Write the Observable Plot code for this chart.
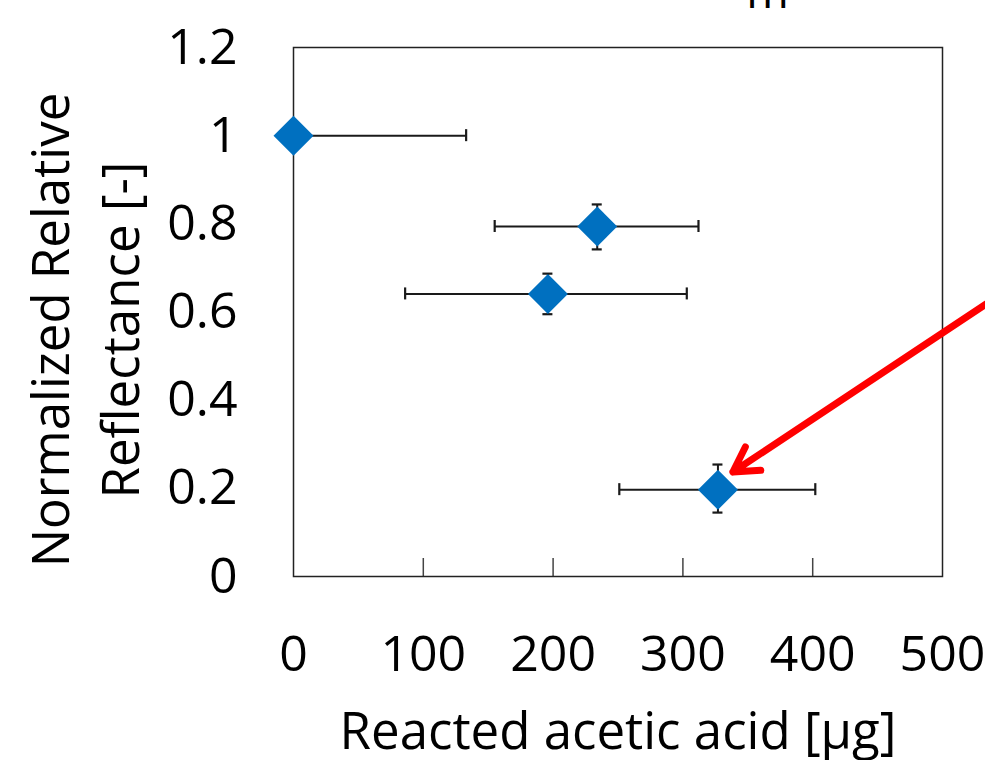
<!DOCTYPE html>
<html>
<head>
<meta charset="utf-8">
<script src="https://cdn.jsdelivr.net/npm/d3@7"></script>
<script src="https://cdn.jsdelivr.net/npm/@observablehq/plot@0.6"></script>
<style>
  html, body { margin: 0; padding: 0; background: #fff; }
  #chart { width: 985px; height: 760px; overflow: hidden; }
</style>
</head>
<body>
<div id="chart"></div>
<script>
// ---- data ----
const xVal = [0, 234, 196, 327];            // reacted acetic acid [µg]
const yVal = [1.0, 0.794, 0.641, 0.197];    // normalized relative reflectance
const xLo  = [0, 155, 86, 251];
const xHi  = [133, 312, 303, 402];
const yLo  = [1.0, 0.742, 0.595, 0.145];
const yHi  = [1.0, 0.844, 0.687, 0.254];

const xTicks = [0, 100, 200, 300, 400, 500];
const yTicks = [0, 0.2, 0.4, 0.6, 0.8, 1, 1.2];
const xInnerTicks = [100, 200, 300, 400];

const xLabel = "Reacted acetic acid [μg]";
const yLabel = "Normalized Relative\nReflectance [-]";
const topFragment = ["m"];

// annotation arrow (data coordinates): start (off to the right) -> tip
const arrowData = [{x1: 551, y1: 0.652, x2: 338.5, y2: 0.237}];

const points = xVal.map((x, i) => ({
  x, y: yVal[i], xlo: xLo[i], xhi: xHi[i], ylo: yLo[i], yhi: yHi[i]
}));
const withYErr = points.filter(d => d.yhi > d.ylo);

const font = "'Open Sans', 'Noto Sans', sans-serif";
const errColor = "#1a1a1a";

const chart = Plot.plot({
  width: 985,
  height: 760,
  marginLeft: 293,
  marginRight: 43,
  marginTop: 47,
  marginBottom: 184,
  style: {fontFamily: font, fontSize: "50px", color: "#000", background: "#fff", overflow: "hidden"},
  x: {domain: [0, 500], ticks: xTicks, tickFormat: d => String(d)},
  y: {domain: [0, 1.2], ticks: yTicks, tickFormat: d => String(d)},
  marks: [
    Plot.axisY({ticks: yTicks, tickSize: 0, tickPadding: 56, label: null, tickFormat: d => String(d), fontSize: 50}),
    Plot.axisX({ticks: xTicks, tickSize: 0, tickPadding: 59, label: null, tickFormat: d => String(d), fontSize: 50}),
    // inner upward tick marks on the bottom edge
    Plot.ruleX(xInnerTicks, {x: d => d, y1: 0, y2: 0, insetBottom: 18, stroke: "#444", strokeWidth: 1.5}),
    Plot.frame({stroke: "#222", strokeWidth: 1.5}),
    // horizontal error bars
    Plot.link(points, {x1: "xlo", x2: "xhi", y1: "y", y2: "y", stroke: errColor, strokeWidth: 2}),
    Plot.ruleX(points.filter(d => d.xlo > 0), {x: "xlo", y1: "y", y2: "y", insetTop: -6, insetBottom: -6, stroke: errColor, strokeWidth: 2.2}),
    Plot.ruleX(points, {x: "xhi", y1: "y", y2: "y", insetTop: -6, insetBottom: -6, stroke: errColor, strokeWidth: 2.2}),
    // vertical error bars
    Plot.link(withYErr, {x1: "x", x2: "x", y1: "ylo", y2: "yhi", stroke: errColor, strokeWidth: 2}),
    Plot.ruleY(withYErr, {y: "ylo", x1: "x", x2: "x", insetLeft: -5, insetRight: -5, stroke: errColor, strokeWidth: 2.2}),
    Plot.ruleY(withYErr, {y: "yhi", x1: "x", x2: "x", insetLeft: -5, insetRight: -5, stroke: errColor, strokeWidth: 2.2}),
    // diamond markers
    Plot.dot(points, {x: "x", y: "y", symbol: "diamond2", r: 18, fill: "#0070C0", stroke: "none"}),
    // red annotation arrow
    Plot.arrow(arrowData, {x1: "x1", y1: "y1", x2: "x2", y2: "y2", stroke: "#ff0000", strokeWidth: 7, headLength: 6, headAngle: 60, strokeLinejoin: "miter"}),
    // axis titles
    Plot.text([xLabel], {text: d => d, frameAnchor: "bottom", lineAnchor: "top", dy: 136, fontSize: 51, fill: "#000"}),
    Plot.text([yLabel], {text: d => d, frameAnchor: "left", rotate: -90, textAnchor: "middle", lineAnchor: "middle", lineHeight: 1.38, dx: -212, dy: 18, fontSize: 51, fill: "#000"}),
    // cropped fragment of text above the chart
    Plot.text(topFragment, {text: d => d, frameAnchor: "top-left", textAnchor: "middle", lineAnchor: "bottom", dx: 474, dy: -40, fontSize: 46, fill: "#000"})
  ]
});

document.getElementById("chart").appendChild(chart);
</script>
</body>
</html>
